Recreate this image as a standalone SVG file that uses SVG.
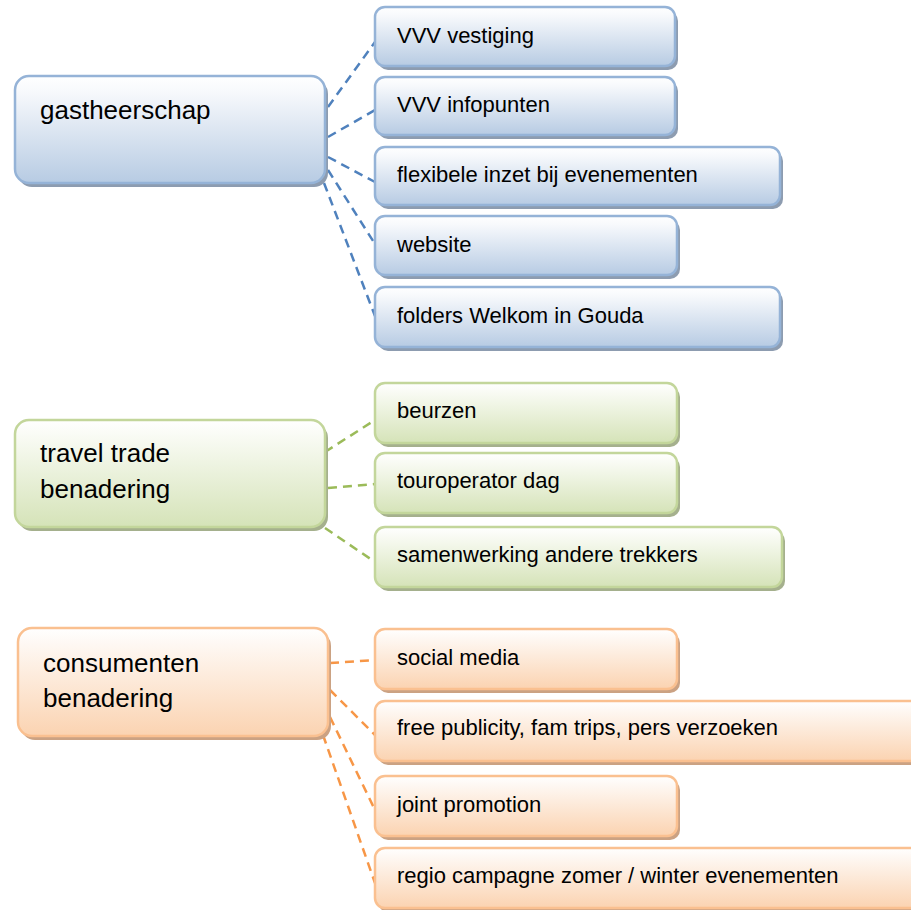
<svg xmlns="http://www.w3.org/2000/svg" width="911" height="910" viewBox="0 0 911 910">
  <defs>
    <linearGradient id="gBlue" x1="0" y1="0" x2="0" y2="1">
      <stop offset="0" stop-color="#FFFFFF"/>
      <stop offset="0.15" stop-color="#F7F9FC"/>
      <stop offset="1" stop-color="#B7CBE3"/>
    </linearGradient>
    <linearGradient id="gGreen" x1="0" y1="0" x2="0" y2="1">
      <stop offset="0" stop-color="#FFFFFF"/>
      <stop offset="0.15" stop-color="#F9FBF4"/>
      <stop offset="1" stop-color="#D5E3B8"/>
    </linearGradient>
    <linearGradient id="gOrange" x1="0" y1="0" x2="0" y2="1">
      <stop offset="0" stop-color="#FFFFFF"/>
      <stop offset="0.15" stop-color="#FEF8F3"/>
      <stop offset="1" stop-color="#FBD3B1"/>
    </linearGradient>
  </defs>
  <style>
    .lbl { font-family: "Liberation Sans", Arial, sans-serif; fill: #000000; }
    .main { font-size: 26px; }
    .sub { font-size: 22px; }
    .blue .box { fill: url(#gBlue); stroke: #95B3D7; stroke-width: 2.5; }
    .blue .shd { fill: #8D9CB0; }
    .green .box { fill: url(#gGreen); stroke: #C3D69B; stroke-width: 2.5; }
    .green .shd { fill: #A5B08D; }
    .orange .box { fill: url(#gOrange); stroke: #FAC090; stroke-width: 2.5; }
    .orange .shd { fill: #CBA283; }
    .con line { stroke-width: 2.5; stroke-dasharray: 9 6; fill: none; }
    .con .cb { stroke: #4F81BD; }
    .con .cg { stroke: #9BBB59; }
    .con .co { stroke: #F79646; }
  </style>

  <g id="connectors" class="con">
    <line class="cb" x1="328" y1="107" x2="375" y2="42"/>
    <line class="cb" x1="328" y1="137" x2="375" y2="110"/>
    <line class="cb" x1="328" y1="157" x2="375" y2="182"/>
    <line class="cb" x1="328" y1="170" x2="375" y2="244"/>
    <line class="cb" x1="324" y1="183" x2="375" y2="316"/>

    <line class="cg" x1="325" y1="452" x2="375" y2="420"/>
    <line class="cg" x1="328" y1="488" x2="375" y2="484"/>
    <line class="cg" x1="325" y1="528" x2="375" y2="562"/>

    <line class="co" x1="330" y1="663" x2="375" y2="660"/>
    <line class="co" x1="330" y1="690" x2="375" y2="735"/>
    <line class="co" x1="330" y1="717" x2="375" y2="810"/>
    <line class="co" x1="323" y1="735" x2="375" y2="883"/>
  </g>

  <!-- gastheerschap -->
  <g id="n-gastheerschap" class="blue">
    <rect class="shd" x="18" y="80" width="310" height="107" rx="14"/>
    <rect class="box" x="15" y="76" width="310" height="107" rx="14"/>
    <text class="lbl main" x="40" y="119">gastheerschap</text>
  </g>
  <g id="n-vvv-vestiging" class="blue">
    <rect class="shd" x="378" y="11" width="300" height="59" rx="10"/>
    <rect class="box" x="375" y="7" width="300" height="59" rx="10"/>
    <text class="lbl sub" x="397" y="43">VVV vestiging</text>
  </g>
  <g id="n-vvv-infopunten" class="blue">
    <rect class="shd" x="378" y="81" width="300" height="58" rx="10"/>
    <rect class="box" x="375" y="77" width="300" height="58" rx="10"/>
    <text class="lbl sub" x="397" y="112">VVV infopunten</text>
  </g>
  <g id="n-flexibele" class="blue">
    <rect class="shd" x="378" y="151" width="405" height="58" rx="10"/>
    <rect class="box" x="375" y="147" width="405" height="58" rx="10"/>
    <text class="lbl sub" x="397" y="182">flexibele inzet bij evenementen</text>
  </g>
  <g id="n-website" class="blue">
    <rect class="shd" x="378" y="220" width="302" height="59" rx="10"/>
    <rect class="box" x="375" y="216" width="302" height="59" rx="10"/>
    <text class="lbl sub" x="397" y="252">website</text>
  </g>
  <g id="n-folders" class="blue">
    <rect class="shd" x="378" y="291" width="405" height="60" rx="10"/>
    <rect class="box" x="375" y="287" width="405" height="60" rx="10"/>
    <text class="lbl sub" x="397" y="323">folders Welkom in Gouda</text>
  </g>

  <!-- travel trade -->
  <g id="n-travel-trade" class="green">
    <rect class="shd" x="18" y="424" width="310" height="107" rx="14"/>
    <rect class="box" x="15" y="420" width="310" height="107" rx="14"/>
    <text class="lbl main" x="40" y="462">travel trade</text>
    <text class="lbl main" x="40" y="498">benadering</text>
  </g>
  <g id="n-beurzen" class="green">
    <rect class="shd" x="378" y="387" width="302" height="60" rx="10"/>
    <rect class="box" x="375" y="383" width="302" height="60" rx="10"/>
    <text class="lbl sub" x="397" y="418">beurzen</text>
  </g>
  <g id="n-touroperator" class="green">
    <rect class="shd" x="378" y="457" width="302" height="60" rx="10"/>
    <rect class="box" x="375" y="453" width="302" height="60" rx="10"/>
    <text class="lbl sub" x="397" y="488">touroperator dag</text>
  </g>
  <g id="n-samenwerking" class="green">
    <rect class="shd" x="378" y="531" width="407" height="60" rx="10"/>
    <rect class="box" x="375" y="527" width="407" height="60" rx="10"/>
    <text class="lbl sub" x="397" y="562">samenwerking andere trekkers</text>
  </g>

  <!-- consumenten -->
  <g id="n-consumenten" class="orange">
    <rect class="shd" x="21" y="632" width="310" height="108" rx="14"/>
    <rect class="box" x="18" y="628" width="310" height="108" rx="14"/>
    <text class="lbl main" x="43" y="672">consumenten</text>
    <text class="lbl main" x="43" y="707">benadering</text>
  </g>
  <g id="n-social-media" class="orange">
    <rect class="shd" x="378" y="633" width="302" height="60" rx="10"/>
    <rect class="box" x="375" y="629" width="302" height="60" rx="10"/>
    <text class="lbl sub" x="397" y="665">social media</text>
  </g>
  <g id="n-free-publicity" class="orange">
    <rect class="shd" x="378" y="705" width="560" height="60" rx="10"/>
    <rect class="box" x="375" y="701" width="560" height="60" rx="10"/>
    <text class="lbl sub" x="397" y="735">free publicity, fam trips, pers verzoeken</text>
  </g>
  <g id="n-joint-promotion" class="orange">
    <rect class="shd" x="378" y="780" width="302" height="60" rx="10"/>
    <rect class="box" x="375" y="776" width="302" height="60" rx="10"/>
    <text class="lbl sub" x="397" y="812">joint promotion</text>
  </g>
  <g id="n-regio" class="orange">
    <rect class="shd" x="378" y="852" width="560" height="60" rx="10"/>
    <rect class="box" x="375" y="848" width="560" height="60" rx="10"/>
    <text class="lbl sub" x="397" y="883">regio campagne zomer / winter evenementen</text>
  </g>
</svg>
